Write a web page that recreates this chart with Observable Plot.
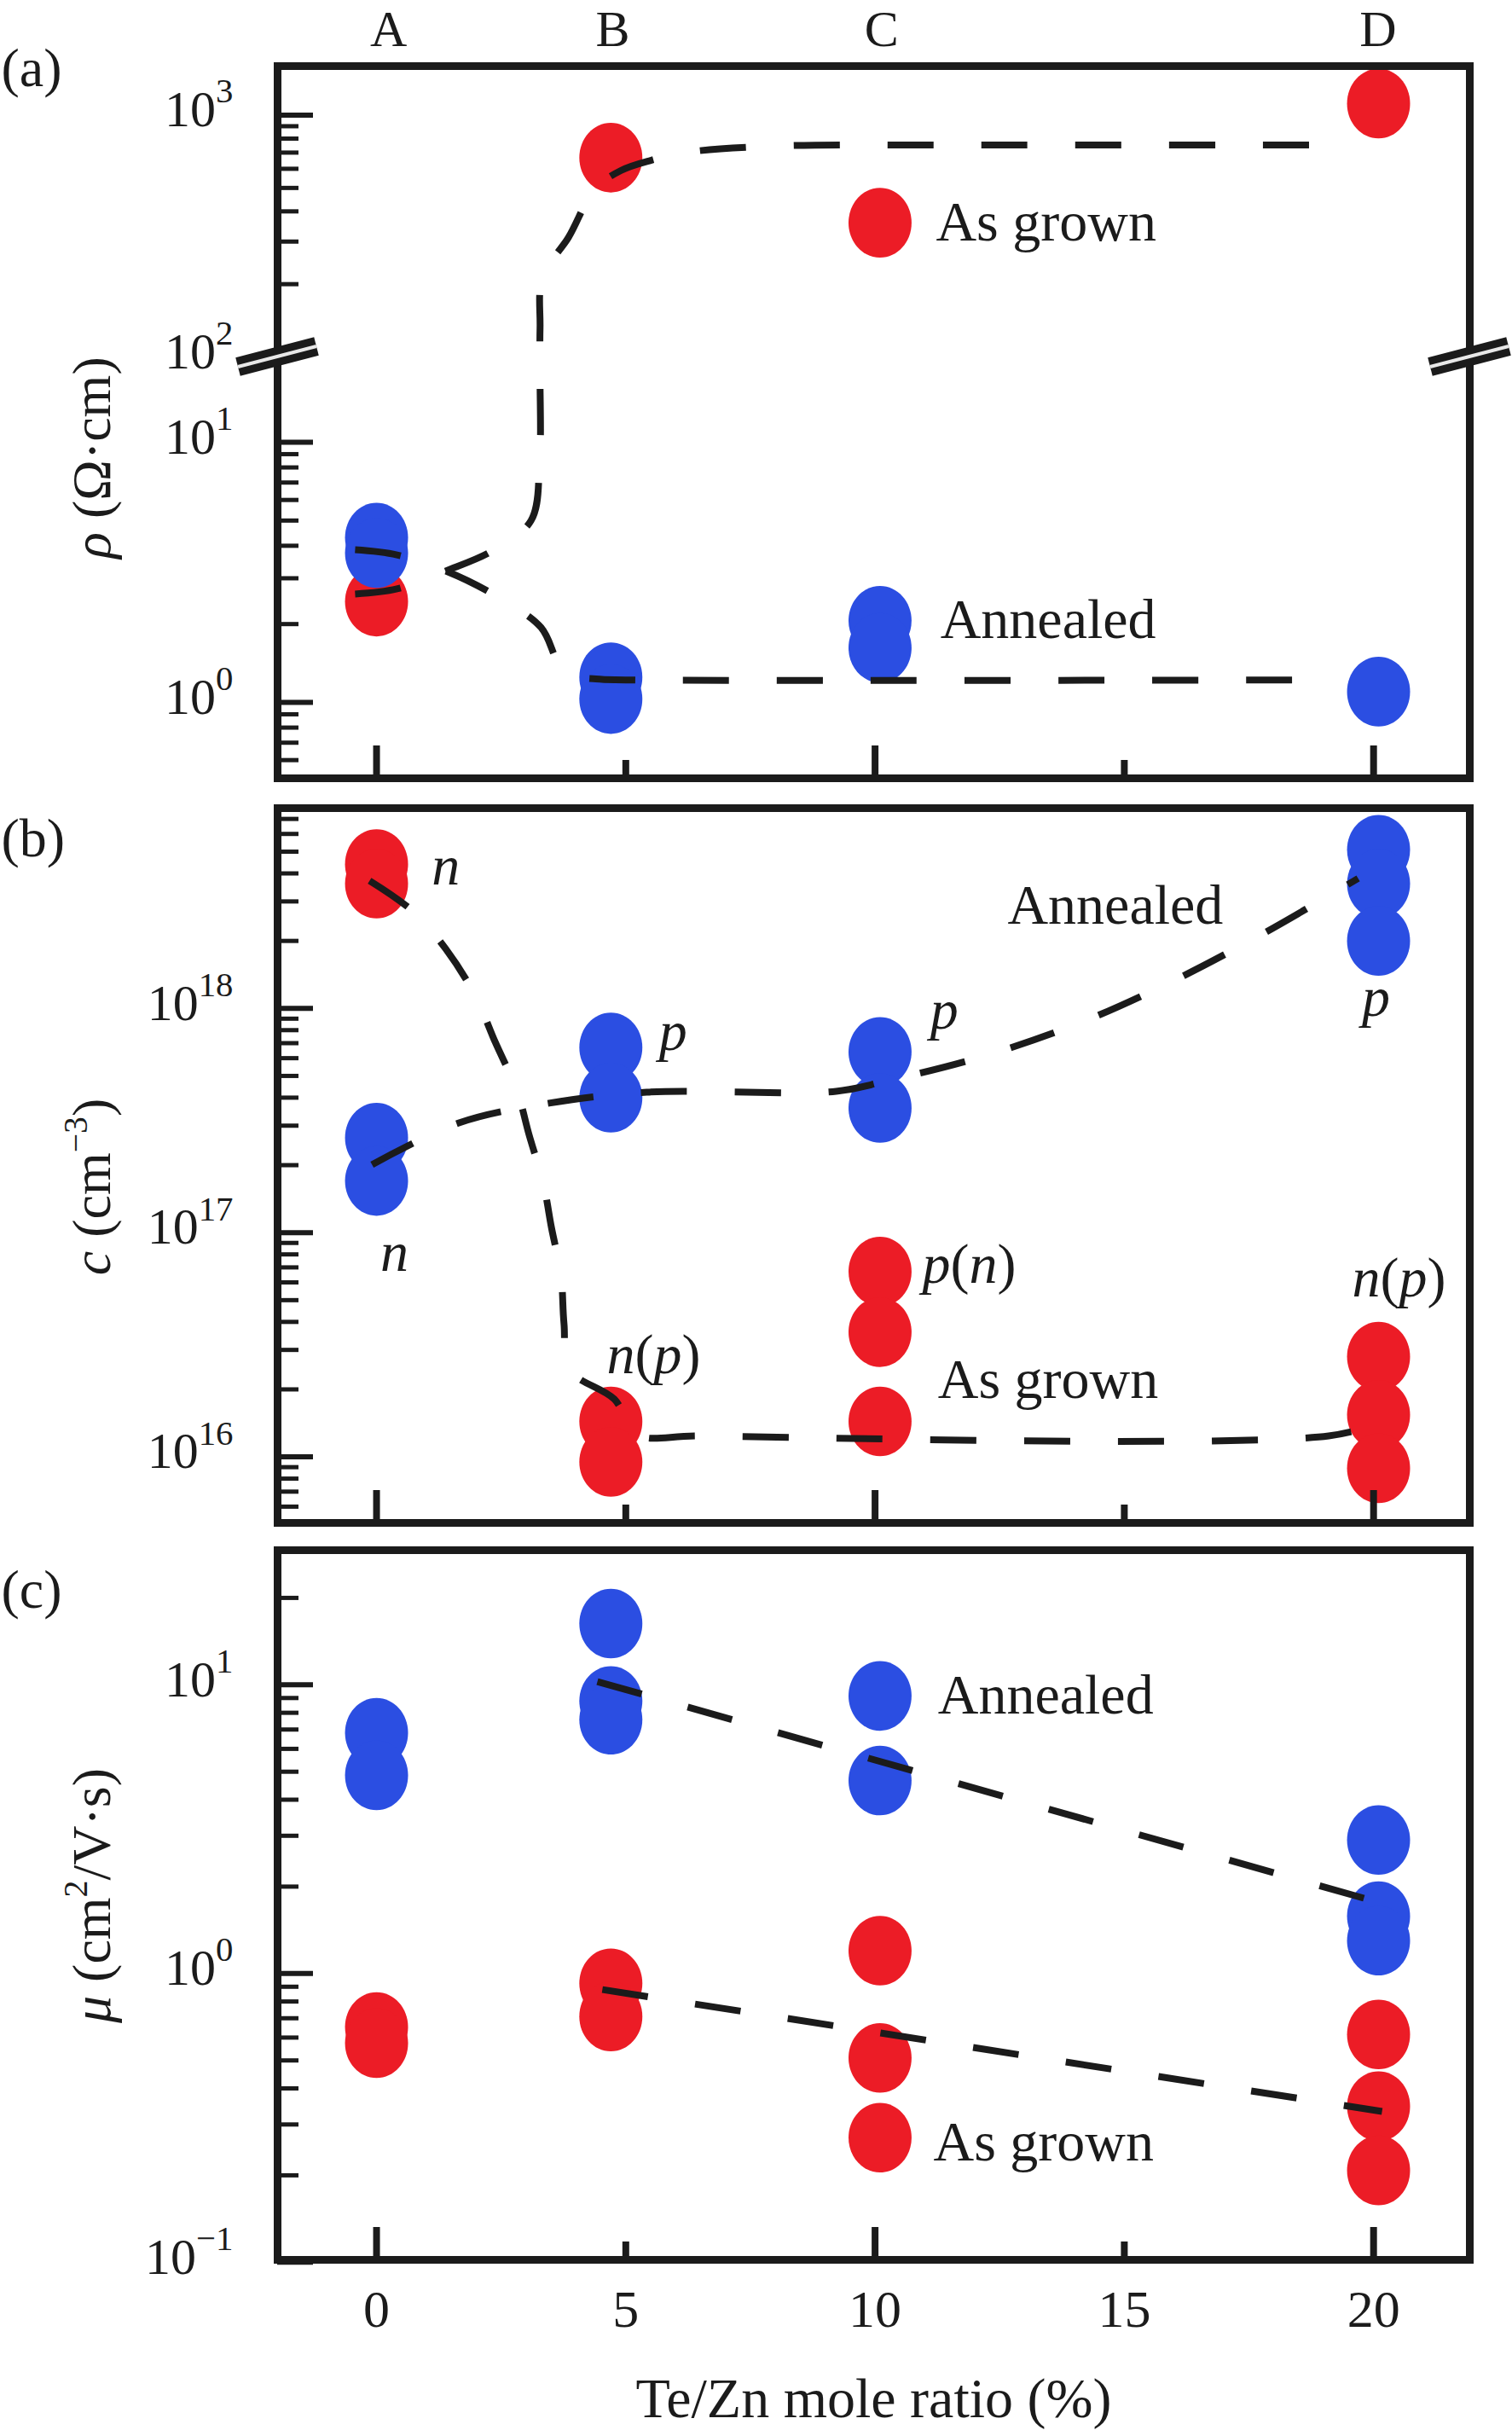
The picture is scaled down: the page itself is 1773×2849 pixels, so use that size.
<!DOCTYPE html>
<html><head><meta charset="utf-8">
<script src="https://cdn.jsdelivr.net/npm/d3@7"></script>
<script src="https://cdn.jsdelivr.net/npm/@observablehq/plot@0.6"></script>
<style>
html,body{margin:0;padding:0;background:#fff;overflow:hidden;}
#chart{width:1773px;height:2849px;display:flex;flex-direction:column;background:#fff;}
#chart svg{display:block;flex:none;}
#chart svg, #chart svg text, #chart svg tspan{font-family:'Liberation Serif','Times New Roman',serif !important;}
</style></head>
<body><div id="chart"></div>
<script>
// ---------------- data ----------------
const sampleLabels = ["A", "B", "C", "D"];
const sampleLabelX = [0.24, 4.74, 10.13, 20.09];
const xMajorTicks = [0, 10, 20];
const xMinorTicks = [5, 15];
const xTickLabels = [0, 5, 10, 15, 20];
const xTitle = "Te/Zn mole ratio (%)";
const panelNames = ["(a)", "(b)", "(c)"];

// (a) resistivity ρ (Ω·cm)
const rhoTitle = "ρ (Ω·cm)";
const rhoAsGrownX = [0, 4.7, 20.1];
const rhoAsGrown = [2.44, 667, 1117];
const rhoAnnealedX = [0, 0, 4.7, 4.7, 10.1, 10.1, 20.1];
const rhoAnnealed = [4.3, 3.75, 1.25, 1.03, 2.06, 1.62, 1.10];
const rhoGuideAsGrownX = [-0.43, 0.41, 1.39, 2.33, 3.1, 3.27, 3.28, 3.28, 3.33, 3.85, 4.38, 4.9, 5.5, 6.3, 8.0, 12, 19.5];
const rhoGuideAsGrown  = [2.61, 2.73, 3.2, 3.83, 5.0, 8.5, 17.7, 132, 215, 312, 495, 590, 650, 705, 745, 752, 752];
const rhoGuideAnnealedX = [-0.43, 0.41, 1.39, 2.33, 3.30, 3.62, 3.85, 4.4, 5.0, 19.1];
const rhoGuideAnnealed  = [3.86, 3.69, 3.2, 2.61, 1.94, 1.45, 1.28, 1.23, 1.22, 1.22];
const rhoLegendDotX = [10.1];
const rhoLegendDotY = [359];
const rhoLegendText = ["As grown", "Annealed"];
const rhoLegendTextX = [11.22, 11.31];
const rhoLegendTextY = [359, 2.08];
const rhoMajorTicks = [1, 10, 1000];
const rhoMinorTicks = [0.6, 0.7, 0.8, 0.9, 2, 3, 4, 5, 6, 7, 8, 9, 200, 300, 400, 500, 600, 700, 800, 900];
const rhoTickLabels = [1, 10, 100, 1000];
const rhoBreakAt = 100;

// (b) carrier concentration c (cm^-3)
const cTitle = "c (cm−3)";
const cAsGrownX = [0, 0, 4.7, 4.7, 10.1, 10.1, 10.1, 20.1, 20.1, 20.1];
const cAsGrown = [4.4e18, 3.6e18, 1.44e16, 9.5e15, 6.7e16, 3.6e16, 1.44e16, 2.8e16, 1.54e16, 8.9e15];
const cAnnealedX = [0, 0, 4.7, 4.7, 10.1, 10.1, 20.1, 20.1, 20.1];
const cAnnealed = [2.65e17, 1.7e17, 6.7e17, 4.0e17, 6.4e17, 3.6e17, 5.1e18, 3.6e18, 2.0e18];
const cGuideAsGrownX = [-0.14, 0.75, 1.39, 1.98, 2.38, 2.82, 3.06, 3.35, 3.51, 3.70, 3.76, 3.88, 4.77, 5.22, 6.5, 19.1, 20.15];
const cGuideAsGrown  = [3.71e18, 2.69e18, 1.84e18, 1.14e18, 7.08e17, 4.27e17, 2.73e17, 1.64e17, 1.05e17, 6.46e16, 3.94e16, 2.44e16, 1.81e16, 1.26e16, 1.24e16, 1.24e16, 1.42e16];
const cGuideAnnealedX = [-0.09, 1.64, 3.46, 5.42, 9.22, 10.2, 12.1, 14.0, 15.9, 17.84, 19.69];
const cGuideAnnealed  = [2.01e17, 3.08e17, 3.78e17, 4.23e17, 4.27e17, 4.73e17, 6.05e17, 8.43e17, 1.30e18, 2.19e18, 3.80e18];
const cTypeLabels = ["n", "p", "n", "n(p)", "p", "p", "p(n)", "n(p)"];
const cTypeLabelX = [1.39, 5.95, 0.36, 5.56, 11.39, 20.05, 11.89, 20.51];
const cTypeLabelY = [4.07e18, 7.46e17, 7.73e16, 2.70e16, 9.29e17, 1.06e18, 6.84e16, 5.94e16];
const cAnnealedText = ["Annealed"];
const cAnnealedTextX = [14.82];
const cAnnealedTextY = [2.88e18];
const cAsGrownText = ["As grown"];
const cAsGrownTextX = [11.26];
const cAsGrownTextY = [2.21e16];
const cMajorTicks = [1e16, 1e17, 1e18];
const cMinorTicks = [6e15, 7e15, 8e15, 9e15, 2e16, 3e16, 4e16, 5e16, 6e16, 7e16, 8e16, 9e16,
  2e17, 3e17, 4e17, 5e17, 6e17, 7e17, 8e17, 9e17, 2e18, 3e18, 4e18, 5e18, 6e18, 7e18];
const cTickLabels = [1e16, 1e17, 1e18];

// (c) mobility μ (cm^2/V·s)
const muTitle = "μ (cm2/V·s)";
const muAsGrownX = [0, 0, 4.7, 4.7, 10.1, 10.1, 20.1, 20.1, 20.1];
const muAsGrown = [0.653, 0.574, 0.925, 0.71, 1.20, 0.51, 0.615, 0.347, 0.208];
const muAnnealedX = [0, 0, 4.7, 4.7, 4.7, 10.1, 20.1, 20.1, 20.1];
const muAnnealed = [6.82, 4.86, 16.3, 8.79, 7.57, 4.66, 2.90, 1.58, 1.30];
const muGuideAnnealedX = [4.43, 20.12];
const muGuideAnnealed = [10.26, 1.76];
const muGuideAsGrownX = [4.53, 20.17];
const muGuideAsGrown = [0.88, 0.333];
const muLegendDotX = [10.1, 10.1];
const muLegendDotY = [9.15, 0.27];
const muLegendColor = ["Annealed", "As grown"];
const muLegendText = ["Annealed", "As grown"];
const muLegendTextX = [11.26, 11.17];
const muLegendTextY = [9.15, 0.26];
const muMajorTicks = [0.1, 1, 10];
const muMinorTicks = [0.2, 0.3, 0.4, 0.5, 0.6, 0.7, 0.8, 0.9, 2, 3, 4, 5, 6, 7, 8, 9, 20];
const muTickLabels = [0.1, 1, 10];

// ---------------- styling ----------------
const W = 1773, ML = 325, MR = 50, INNER_W = W - ML - MR;
const FONT = "'Liberation Serif','Times New Roman',serif";
const INK = "#1b1b1b";
const RED = "#ec1c26", BLUE = "#2b4ee2";
const X_DOMAIN = [-1.985, 21.93];
const DASH = "54,56";

// broken log axis for (a): lower segment 1 decade = 305px, upper 283.5px
const LB = Math.log10(20), U2 = 405 / 305, UPPER_RATIO = 283.5 / 305;
function brk(v) {
  const L = Math.log10(v);
  if (L <= LB) return L;
  if (L >= 2) return U2 + (L - 2) * UPPER_RATIO;
  return LB + (L - LB) / (2 - LB) * (U2 - LB);
}

const ellipse = {
  draw(ctx, size) {
    const r = Math.sqrt(size / Math.PI), a = r * 0.96, b = r * 1.06, k = 0.5523;
    ctx.moveTo(a, 0);
    ctx.bezierCurveTo(a, k * b, k * a, b, 0, b);
    ctx.bezierCurveTo(-k * a, b, -a, k * b, -a, 0);
    ctx.bezierCurveTo(-a, -k * b, -k * a, -b, 0, -b);
    ctx.bezierCurveTo(k * a, -b, a, -k * b, a, 0);
    ctx.closePath();
  }
};

const zip = (xs, ys, f = v => v) => xs.map((x, i) => ({x, y: f(ys[i])}));

function dots(xs, ys, color, f) {
  return Plot.dot(zip(xs, ys, f), {x: "x", y: "y", r: 38.5, symbol: ellipse, fill: color, stroke: "none"});
}
function guide(xs, ys, f, curve = "catmull-rom") {
  return Plot.line(zip(xs, ys, f), {x: "x", y: "y", curve, stroke: INK, strokeWidth: 8, strokeDasharray: DASH, strokeLinecap: "butt"});
}
function yTicks(major, minor, f = v => v) {
  return [
    Plot.tickY(minor, {y: f, insetRight: INNER_W - 25, stroke: INK, strokeWidth: 5}),
    Plot.tickY(major, {y: f, insetRight: INNER_W - 42, stroke: INK, strokeWidth: 6})
  ];
}
function xTicks(innerH) {
  return [
    Plot.tickX(xMajorTicks, {x: d => d, insetTop: innerH - 38, stroke: INK, strokeWidth: 8}),
    Plot.tickX(xMinorTicks, {x: d => d, insetTop: innerH - 21, stroke: INK, strokeWidth: 8})
  ];
}
function yTickLabels(vals, f = v => v) {
  return Plot.text(vals, {y: f, text: v => `10^${Math.round(Math.log10(v))}`, frameAnchor: "left",
    textAnchor: "end", lineAnchor: "middle", dx: -52, dy: -6, fontSize: 60, fill: INK});
}
function yTitle(t, dy) {
  return Plot.text([t], {frameAnchor: "left", textAnchor: "middle", lineAnchor: "middle", rotate: -90, dx: -217, dy, fontSize: 64, fill: INK});
}
function panelLabel(t, dy) {
  return Plot.text([t], {frameAnchor: "top-left", textAnchor: "start", lineAnchor: "middle", dx: -324, dy, fontSize: 64, fill: INK});
}
function labelText(texts, xs, ys, anchor, f = v => v, extra = {}) {
  return Plot.text(texts, {x: (d, i) => xs[i], y: (d, i) => f(ys[i]), textAnchor: anchor, lineAnchor: "middle", fontSize: 66, fill: INK, ...extra});
}
function breakMarks(v) {
  return (index, scales, values, dims) => {
    const ns = "http://www.w3.org/2000/svg";
    const g = document.createElementNS(ns, "g");
    const y = scales.y(brk(v));
    for (const xc of [dims.marginLeft, dims.width - dims.marginRight]) {
      for (const [w, c] of [[22, INK], [4, "#e8e8e8"]]) {
        const l = document.createElementNS(ns, "line");
        l.setAttribute("x1", xc - 46); l.setAttribute("y1", y + 12);
        l.setAttribute("x2", xc + 46); l.setAttribute("y2", y - 12);
        l.setAttribute("stroke", c); l.setAttribute("stroke-width", w);
        g.appendChild(l);
      }
    }
    return g;
  };
}

const RICH = {
  [rhoTitle]: [["ρ", "i"], [" (Ω·cm)", ""]],
  [cTitle]: [["c", "i"], [" (cm", ""], ["−3", "sup"], [")", ""]],
  [muTitle]: [["μ", "i"], [" (cm", ""], ["2", "sup"], ["/V·s)", ""]],
  "n(p)": [["n", "i"], ["(", ""], ["p", "i"], [")", ""]],
  "p(n)": [["p", "i"], ["(", ""], ["n", "i"], [")", ""]],
  "n": [["n", "i"]],
  "p": [["p", "i"]]
};
function enrich(svg) {
  const ns = "http://www.w3.org/2000/svg";
  for (const t of svg.querySelectorAll("text")) {
    const s = t.textContent;
    let parts = RICH[s];
    let supSize = 0.62;
    const m = /^10\^(-?\d+)$/.exec(s);
    if (m) { parts = [["10", ""], [m[1].replace("-", "−"), "sup"]]; supSize = 0.68; }
    if (!parts) continue;
    while (t.firstChild) t.removeChild(t.firstChild);
    let raised = false;
    for (const [str, kind] of parts) {
      const ts = document.createElementNS(ns, "tspan");
      ts.textContent = str;
      if (kind === "i") ts.setAttribute("font-style", "italic");
      if (kind === "sup") {
        ts.style.fontSize = supSize + "em";
        ts.setAttribute("dy", "-0.68em");
        raised = true;
      } else if (raised) {
        ts.setAttribute("dy", (0.68 * supSize).toFixed(4) + "em");
        raised = false;
      }
      t.appendChild(ts);
    }
  }
  return svg;
}

const baseStyle = {fontFamily: FONT, background: "white", color: INK, overflow: "visible"};

// ---------------- panel (a) ----------------
const A_H = 929, A_MT = 77, A_MB = 17;
const panelA = Plot.plot({
  width: W, height: A_H, marginTop: A_MT, marginBottom: A_MB, marginLeft: ML, marginRight: MR,
  style: baseStyle,
  x: {domain: X_DOMAIN, axis: null},
  y: {domain: [(823 - 912) / 305, (823 - 77) / 305], axis: null},
  marks: [
    dots(rhoAsGrownX, rhoAsGrown, RED, brk),
    dots(rhoAnnealedX, rhoAnnealed, BLUE, brk),
    dots(rhoLegendDotX, rhoLegendDotY, RED, brk),
    guide(rhoGuideAsGrownX, rhoGuideAsGrown, brk),
    guide(rhoGuideAnnealedX, rhoGuideAnnealed, brk),
    labelText(rhoLegendText, rhoLegendTextX, rhoLegendTextY, "start", brk),
    ...yTicks(rhoMajorTicks, rhoMinorTicks, brk),
    ...xTicks(A_H - A_MT - A_MB),
    Plot.frame({stroke: INK, strokeWidth: 9}),
    breakMarks(rhoBreakAt),
    yTickLabels(rhoTickLabels, brk),
    Plot.text(sampleLabels, {x: (d, i) => sampleLabelX[i], frameAnchor: "top", lineAnchor: "middle", dy: -43, fontSize: 60, fill: INK}),
    yTitle(rhoTitle, 41.5),
    panelLabel(panelNames[0], 3)
  ]
});

// ---------------- panel (b) ----------------
const B_H = 871, B_MT = 18, B_MB = 15;
const panelB = Plot.plot({
  width: W, height: B_H, marginTop: B_MT, marginBottom: B_MB, marginLeft: ML, marginRight: MR,
  style: baseStyle,
  x: {domain: X_DOMAIN, axis: null},
  y: {type: "log", domain: [Math.pow(10, 15.7056), Math.pow(10, 18.8931)], axis: null},
  marks: [
    dots(cAsGrownX, cAsGrown, RED),
    dots(cAnnealedX, cAnnealed, BLUE),
    guide(cGuideAsGrownX, cGuideAsGrown),
    guide(cGuideAnnealedX, cGuideAnnealed),
    labelText(cTypeLabels, cTypeLabelX, cTypeLabelY, "middle", undefined, {dy: -6}),
    labelText(cAnnealedText, cAnnealedTextX, cAnnealedTextY, "middle"),
    labelText(cAsGrownText, cAsGrownTextX, cAsGrownTextY, "start"),
    ...yTicks(cMajorTicks, cMinorTicks),
    ...xTicks(B_H - B_MT - B_MB),
    Plot.frame({stroke: INK, strokeWidth: 9}),
    yTickLabels(cTickLabels),
    yTitle(cTitle, 25),
    panelLabel(panelNames[1], 36)
  ]
});

// ---------------- panel (c) ----------------
const C_H = 1049, C_MT = 17, C_MB = 200;
const panelC = Plot.plot({
  width: W, height: C_H, marginTop: C_MT, marginBottom: C_MB, marginLeft: ML, marginRight: MR,
  style: baseStyle,
  x: {domain: X_DOMAIN, axis: null},
  y: {type: "log", domain: [Math.pow(10, -0.9917), Math.pow(10, 1.4662)], axis: null},
  marks: [
    dots(muAsGrownX, muAsGrown, RED),
    dots(muAnnealedX, muAnnealed, BLUE),
    Plot.dot(zip(muLegendDotX, muLegendDotY).map((d, i) => ({...d, k: muLegendColor[i]})),
      {x: "x", y: "y", r: 38.5, symbol: ellipse, fill: d => d.k === "Annealed" ? BLUE : RED, stroke: "none"}),
    guide(muGuideAnnealedX, muGuideAnnealed, undefined, "linear"),
    guide(muGuideAsGrownX, muGuideAsGrown, undefined, "linear"),
    labelText(muLegendText, muLegendTextX, muLegendTextY, "start"),
    ...yTicks(muMajorTicks, muMinorTicks),
    ...xTicks(C_H - C_MT - C_MB),
    Plot.frame({stroke: INK, strokeWidth: 9}),
    yTickLabels(muTickLabels),
    Plot.text(xTickLabels, {x: d => d, frameAnchor: "bottom", lineAnchor: "middle", dy: 59, fontSize: 62, fill: INK}),
    Plot.text([xTitle], {frameAnchor: "bottom", textAnchor: "middle", lineAnchor: "middle", dy: 163, fontSize: 66, fill: INK}),
    yTitle(muTitle, -11),
    panelLabel(panelNames[2], 47)
  ]
});

const chart = document.getElementById("chart");
for (const p of [panelA, panelB, panelC]) chart.appendChild(enrich(p));
</script>
</body></html>
